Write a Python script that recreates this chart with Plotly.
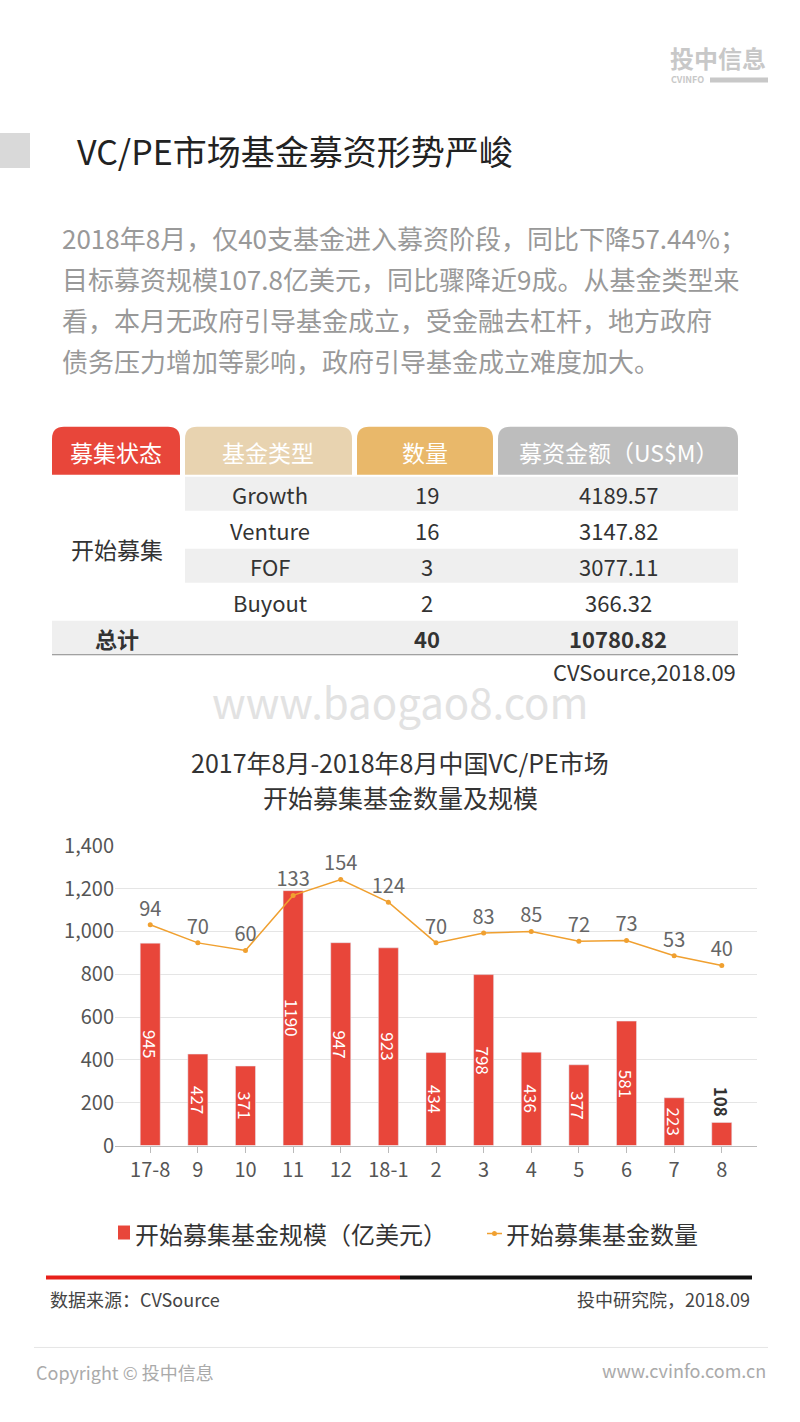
import plotly.graph_objects as go

months = ["17-8","9","10","11","12","18-1","2","3","4","5","6","7","8"]
scale = [945,427,371,1190,947,923,434,798,436,377,581,223,108]
counts = [94,70,60,133,154,124,70,83,85,72,73,53,40]
tbl_types = ["Growth","Venture","FOF","Buyout"]
tbl_counts = ["19","16","3","2"]
tbl_amounts = ["4189.57","3147.82","3077.11","366.32"]

W, H = 800, 1422
F = "Noto Sans CJK SC"
def X(p): return p / W
def Y(p):
    q = (p - 16) / 0.98   # compensate vertical offset/scale seen in the render
    return 1 - q / H

fig = go.Figure()
fig.add_trace(go.Bar(x=months, y=scale, marker_color="#E8463A", width=0.42, showlegend=False,
                     hoverinfo="x+y"))
fig.add_trace(go.Scatter(x=months, y=counts, yaxis="y2", mode="lines+markers+text",
                         line=dict(color="#F0A030", width=1.5), marker=dict(size=5, color="#F0A030"),
                         text=[str(v) for v in counts], textposition="top center",
                         textfont=dict(color="#666666", size=20, family=F), cliponaxis=False,
                         showlegend=False))

fig.update_layout(
    width=W, height=H, autosize=False, margin=dict(l=0, r=0, t=0, b=0),
    paper_bgcolor="white", plot_bgcolor="white", font=dict(family=F),
    xaxis=dict(domain=[X(115), X(757)], type="category", tickfont=dict(size=20, color="#555555"),
               showline=True, linecolor="#BBBBBB", ticks="outside", tickcolor="#BBBBBB", ticklen=6),
    yaxis=dict(domain=[Y(1146), Y(846)], range=[0, 1400], dtick=200, tickformat=",",
               tickfont=dict(size=20, color="#555555"), gridcolor="#E5E5E5", zeroline=False),
    yaxis2=dict(overlaying="y", range=[-199, 199], visible=False),
)

shapes, ann = [], []
for i, v in enumerate(scale):
    if i == len(scale) - 1:
        ann.append(dict(x=i, y=v, xref="x", yref="y", text=f"<b>{v}</b>", showarrow=False, textangle=90,
                        yanchor="bottom", yshift=4, font=dict(size=17, color="#333333", family=F)))
    else:
        ann.append(dict(x=i, y=v / 2, xref="x", yref="y", text=str(v), showarrow=False, textangle=90,
                        font=dict(size=17, color="white", family=F)))

def rect(x0, y0, x1, y1, color):
    shapes.append(dict(type="rect", xref="paper", yref="paper", x0=X(x0), x1=X(x1), y0=Y(y1), y1=Y(y0),
                       fillcolor=color, line=dict(width=0), layer="below"))
def path_round(x0, y0, x1, y1, color, r=12):
    p = (f"M {X(x0)},{Y(y1)} L {X(x0)},{Y(y0+r)} Q {X(x0)},{Y(y0)} {X(x0+r)},{Y(y0)} "
         f"L {X(x1-r)},{Y(y0)} Q {X(x1)},{Y(y0)} {X(x1)},{Y(y0+r)} L {X(x1)},{Y(y1)} Z")
    shapes.append(dict(type="path", xref="paper", yref="paper", path=p, fillcolor=color, line=dict(width=0)))
def text(x, y, s, size, color="#333333", xa="center"):
    ann.append(dict(x=X(x), y=Y(y), xref="paper", yref="paper", text=s, showarrow=False,
                    xanchor=xa, yanchor="middle", font=dict(size=size, color=color, family=F)))
def hline(x0, x1, y, color, w):
    shapes.append(dict(type="line", xref="paper", yref="paper", x0=X(x0), x1=X(x1), y0=Y(y), y1=Y(y),
                       line=dict(color=color, width=w)))

# header
rect(0, 133, 30, 168, "#D9D9D9")
text(75, 151, "VC/PE市场基金募资形势严峻", 34, "#222222", "left")
text(768, 58, "<b>投中信息</b>", 24, "#C8C8C8", "right")
text(706, 80, "<b>CVINFO</b>", 9, "#C8C8C8", "right")
hline(710, 768, 80, "#C8C8C8", 5)
para = ["2018年8月，仅40支基金进入募资阶段，同比下降57.44%；",
        "目标募资规模107.8亿美元，同比骤降近9成。从基金类型来",
        "看，本月无政府引导基金成立，受金融去杠杆，地方政府",
        "债务压力增加等影响，政府引导基金成立难度加大。"]
for i, s in enumerate(para):
    text(60, 238 + i * 41, s, 26, "#999999", "left")

# table
path_round(52, 427, 180, 475, "#E8463A")
path_round(185, 427, 352, 475, "#E8D3B0")
path_round(357, 427, 493, 475, "#E9B86A")
path_round(498, 427, 738, 475, "#BDBDBD")
for cx, s in [(116, "募集状态"), (268, "基金类型"), (425, "数量"), (618, "募资金额（US$M）")]:
    text(cx, 452, s, 23, "white")
for i in range(4):
    y0 = 477 + i * 36
    if i % 2 == 0:
        rect(185, y0, 738, y0 + 34, "#EFEFEF")
    text(270, y0 + 17, tbl_types[i], 22)
    text(427, y0 + 17, tbl_counts[i], 22)
    text(618, y0 + 17, tbl_amounts[i], 22)
text(117, 549, "开始募集", 23)
rect(52, 621, 738, 655, "#EFEFEF")
hline(52, 738, 655, "#888888", 1)
text(117, 638, "<b>总计</b>", 22)
text(427, 638, "<b>40</b>", 22)
text(618, 638, "<b>10780.82</b>", 22)
text(400, 701, "www.baogao8.com", 42, "#E2E2E2")
text(738, 671, "CVSource,2018.09", 22, "#333333", "right")

# chart title
text(400, 762, "2017年8月-2018年8月中国VC/PE市场", 25, "#333333")
text(400, 797, "开始募集基金数量及规模", 25, "#333333")

# legend
rect(118, 1226, 130, 1240, "#E8463A")
text(133, 1234, "开始募集基金规模（亿美元）", 24, "#333333", "left")
hline(487, 502, 1234, "#F0A030", 1.5)
shapes.append(dict(type="circle", xref="paper", yref="paper", x0=X(492), x1=X(497), y0=Y(1236.5), y1=Y(1231.5),
                   fillcolor="#F0A030", line=dict(width=0)))
text(504, 1234, "开始募集基金数量", 24, "#333333", "left")

# bottom
hline(46, 400, 1278, "#E8201A", 4)
hline(400, 752, 1278, "#111111", 4)
text(48, 1300, "数据来源：CVSource", 18, "#444444", "left")
text(752, 1300, "投中研究院，2018.09", 18, "#444444", "right")
hline(34, 768, 1348, "#E5E5E5", 1)
text(34, 1373, "Copyright © 投中信息", 18, "#AAAAAA", "left")
text(768, 1371, "www.cvinfo.com.cn", 18, "#AAAAAA", "right")

fig.update_layout(shapes=shapes, annotations=ann)
fig.write_html("out.html", config={"displayModeBar": False},
               post_script="document.body.style.margin='0';")
